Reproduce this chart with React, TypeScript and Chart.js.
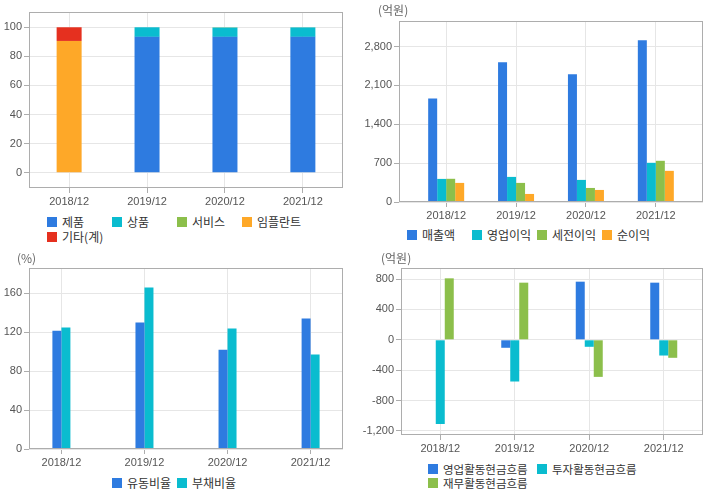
import React, { useEffect, useRef } from "react";
import { Chart, registerables } from "chart.js";

Chart.register(...registerables);

// ---------- data ----------
const periods = ["2018/12", "2019/12", "2020/12", "2021/12"];

// Panel 1: sales mix (%)
const mixProduct = [null, 93.4, 93.4, 93.4];
const mixGoods = [null, 6.6, 6.4, 6.5];
const mixService = [null, null, 0.2, 0.1];
const mixImplant = [90.6, null, null, null];
const mixOther = [9.4, null, null, null];
const mixTicks = [0, 20, 40, 60, 80, 100];

// Panel 2: earnings (억원)
const revenue = [1864, 2516, 2299, 2914];
const operatingProfit = [416, 452, 398, 706];
const pretaxProfit = [418, 344, 253, 742];
const netProfit = [344, 145, 217, 561];
const profitTicks = [0, 700, 1400, 2100, 2800];

// Panel 3: ratios (%)
const currentRatio = [121.3, 129.9, 101.8, 134.0];
const debtRatio = [124.7, 165.8, 123.7, 97.0];
const ratioTicks = [0, 40, 80, 120, 160];

// Panel 4: cash flows (억원)
const operatingCF = [null, -105, 765, 752];
const investingCF = [-1108, -549, -92, -207];
const financingCF = [809, 752, -488, -237];
const cashTicks = [-1200, -800, -400, 0, 400, 800];

// ---------- styles ----------
const BLUE = "#2e7be0";
const CYAN = "#0abccf";
const GREEN = "#8cbf4b";
const ORANGE = "#fea828";
const RED = "#e5301f";

const TICK_FONT = { family: "'Liberation Sans Narrow', 'Liberation Sans', Arial, sans-serif", size: 11 };
const TICK_COLOR = "#555";
const GRID_COLOR = "#e6e6e6";
const FRAME_COLOR = "#adadad";
const TEXT_FONT = "'Noto Sans CJK KR', 'Noto Sans', sans-serif";

const framePlugin = {
  id: "frame",
  afterDraw(chart: any) {
    const { ctx, chartArea: a } = chart;
    ctx.save();
    ctx.strokeStyle = FRAME_COLOR;
    ctx.lineWidth = 1;
    ctx.strokeRect(Math.round(a.left) + 0.5, Math.round(a.top) + 0.5, Math.round(a.right - a.left) - 1, Math.round(a.bottom - a.top) - 1);
    ctx.restore();
  },
};

type Series = { label: string; data: (number | null)[]; color: string };
type PanelCfg = {
  series: Series[];
  stacked: boolean;
  xMin: number;
  xMax: number;
  yMin: number;
  yMax: number;
  yTicks: number[];
  barThickness: number;
  yAxisWidth: number;
  xAxisHeight: number;
  padTop: number;
  padRight: number;
};

function BarPanel({ cfg, left, top, width, height }: { cfg: PanelCfg; left: number; top: number; width: number; height: number }) {
  const ref = useRef<HTMLCanvasElement | null>(null);
  useEffect(() => {
    if (!ref.current) return;
    const chart = new Chart(ref.current, {
      type: "bar",
      data: {
        datasets: cfg.series.map((s) => ({
          label: s.label,
          data: s.data.map((v, i) => ({ x: i, y: v })) as any,
          backgroundColor: s.color,
          borderWidth: 0,
          inflateAmount: 0,
          barThickness: cfg.barThickness,
        })),
      },
      options: {
        responsive: false,
        animation: false,
        events: [],
        layout: { padding: { top: cfg.padTop, right: cfg.padRight, left: 0, bottom: 0 } },
        plugins: { legend: { display: false }, tooltip: { enabled: false } },
        scales: {
          x: {
            type: "linear",
            min: cfg.xMin,
            max: cfg.xMax,
            offset: false,
            stacked: cfg.stacked,
            afterBuildTicks: (s: any) => {
              s.ticks = periods.map((_, i) => ({ value: i }));
            },
            afterFit: (s: any) => {
              s.height = cfg.xAxisHeight;
            },
            ticks: {
              callback: (v: any) => periods[Number(v)] ?? "",
              font: TICK_FONT,
              color: TICK_COLOR,
              padding: 2,
              maxRotation: 0,
              autoSkip: false,
            },
            grid: { color: GRID_COLOR, tickColor: FRAME_COLOR, tickLength: 5, offset: false },
            border: { display: false },
          },
          y: {
            type: "linear",
            min: cfg.yMin,
            max: cfg.yMax,
            stacked: cfg.stacked,
            afterBuildTicks: (s: any) => {
              s.ticks = cfg.yTicks.map((v) => ({ value: v }));
            },
            afterFit: (s: any) => {
              s.width = cfg.yAxisWidth;
            },
            ticks: {
              callback: (v: any) => Number(v).toLocaleString("en-US"),
              font: TICK_FONT,
              color: TICK_COLOR,
              padding: 2,
              autoSkip: false,
            },
            grid: { color: GRID_COLOR, tickColor: FRAME_COLOR, tickLength: 5 },
            border: { display: false },
          },
        },
      } as any,
      plugins: [framePlugin],
    });
    return () => chart.destroy();
  }, []);
  return (
    <canvas
      ref={ref}
      width={width}
      height={height}
      style={{ position: "absolute", left, top, width, height }}
    />
  );
}

function LegendItem({ x, y, color, label, size = 12 }: { x: number; y: number; color: string; label: string; size?: number }) {
  return (
    <div
      style={{
        position: "absolute",
        left: x,
        top: y - 8,
        height: 16,
        display: "flex",
        alignItems: "center",
        whiteSpace: "nowrap",
        fontFamily: TEXT_FONT,
        fontSize: size,
        color: "#333",
        lineHeight: "16px",
      }}
    >
      <span style={{ display: "inline-block", width: 10, height: 10, background: color, marginRight: 5, flex: "none" }} />
      {label}
    </div>
  );
}

function Unit({ x, y, text }: { x: number; y: number; text: string }) {
  return (
    <div
      style={{
        position: "absolute",
        left: x,
        top: y - 8,
        height: 16,
        lineHeight: "16px",
        fontFamily: TEXT_FONT,
        fontSize: 12,
        color: "#666",
        whiteSpace: "nowrap",
      }}
    >
      {text}
    </div>
  );
}

const panel1: PanelCfg = {
  series: [
    { label: "제품", data: mixProduct, color: BLUE },
    { label: "상품", data: mixGoods, color: CYAN },
    { label: "서비스", data: mixService, color: GREEN },
    { label: "임플란트", data: mixImplant, color: ORANGE },
    { label: "기타(계)", data: mixOther, color: RED },
  ],
  stacked: true,
  xMin: -0.515,
  xMax: 3.515,
  yMin: -10.5,
  yMax: 110.5,
  yTicks: mixTicks,
  barThickness: 25,
  yAxisWidth: 29,
  xAxisHeight: 24,
  padTop: 12,
  padRight: 17,
};

const panel2: PanelCfg = {
  series: [
    { label: "매출액", data: revenue, color: BLUE },
    { label: "영업이익", data: operatingProfit, color: CYAN },
    { label: "세전이익", data: pretaxProfit, color: GREEN },
    { label: "순이익", data: netProfit, color: ORANGE },
  ],
  stacked: false,
  xMin: -0.675,
  xMax: 3.675,
  yMin: 0,
  yMax: 3260,
  yTicks: profitTicks,
  barThickness: 9,
  yAxisWidth: 39,
  xAxisHeight: 23,
  padTop: 21,
  padRight: 17,
};

const panel3: PanelCfg = {
  series: [
    { label: "유동비율", data: currentRatio, color: BLUE },
    { label: "부채비율", data: debtRatio, color: CYAN },
  ],
  stacked: false,
  xMin: -0.39,
  xMax: 3.39,
  yMin: 0,
  yMax: 185.7,
  yTicks: ratioTicks,
  barThickness: 9,
  yAxisWidth: 29,
  xAxisHeight: 21,
  padTop: 18,
  padRight: 17,
};

const panel4: PanelCfg = {
  series: [
    { label: "영업활동현금흐름", data: operatingCF, color: BLUE },
    { label: "투자활동현금흐름", data: investingCF, color: CYAN },
    { label: "재무활동현금흐름", data: financingCF, color: GREEN },
  ],
  stacked: false,
  xMin: -0.527,
  xMax: 3.527,
  yMin: -1253,
  yMax: 945,
  yTicks: cashTicks,
  barThickness: 9,
  yAxisWidth: 41,
  xAxisHeight: 25,
  padTop: 18,
  padRight: 17,
};

export default function App() {
  return (
    <div style={{ position: "absolute", left: 0, top: 0, width: 720, height: 496, background: "#fff", overflow: "hidden" }}>
      <BarPanel cfg={panel1} left={0} top={0} width={360} height={212} />
      <BarPanel cfg={panel2} left={360} top={0} width={360} height={225} />
      <BarPanel cfg={panel3} left={0} top={250} width={360} height={220} />
      <BarPanel cfg={panel4} left={360} top={250} width={360} height={210} />

      <LegendItem x={47} y={222} color={BLUE} label="제품" />
      <LegendItem x={112} y={222} color={CYAN} label="상품" />
      <LegendItem x={177} y={222} color={GREEN} label="서비스" />
      <LegendItem x={242} y={222} color={ORANGE} label="임플란트" />
      <LegendItem x={47} y={237} color={RED} label="기타(계)" />

      <Unit x={378} y={10} text="(억원)" />
      <LegendItem x={407} y={235} color={BLUE} label="매출액" />
      <LegendItem x={472} y={235} color={CYAN} label="영업이익" />
      <LegendItem x={537} y={235} color={GREEN} label="세전이익" />
      <LegendItem x={602} y={235} color={ORANGE} label="순이익" />

      <Unit x={17} y={258} text="(%)" />
      <LegendItem x={112} y={483} color={BLUE} label="유동비율" />
      <LegendItem x={177} y={483} color={CYAN} label="부채비율" />

      <Unit x={381} y={258} text="(억원)" />
      <LegendItem x={428} y={469} color={BLUE} label="영업활동현금흐름" size={11.5} />
      <LegendItem x={537} y={469} color={CYAN} label="투자활동현금흐름" size={11.5} />
      <LegendItem x={428} y={483} color={GREEN} label="재무활동현금흐름" size={11.5} />
    </div>
  );
}
